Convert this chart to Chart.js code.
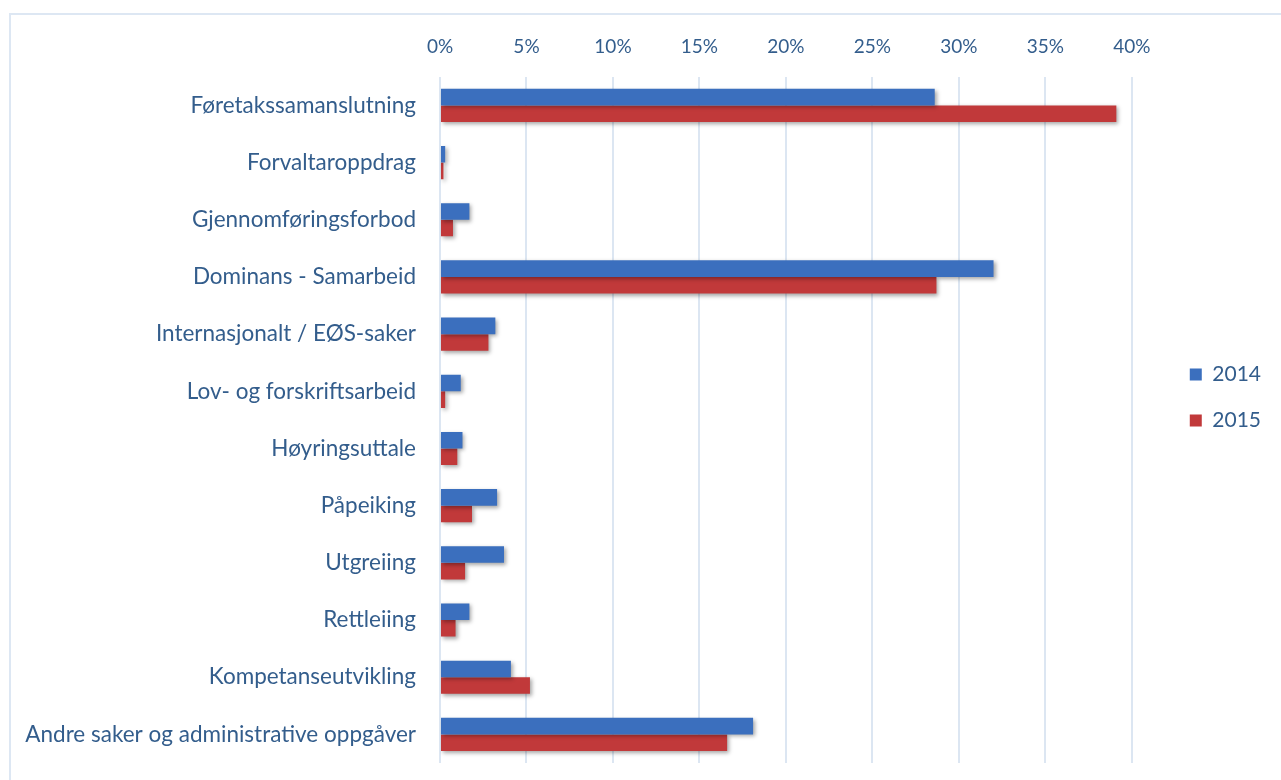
<!DOCTYPE html>
<html>
<head>
<meta charset="utf-8">
<script src="https://cdn.jsdelivr.net/npm/chart.js@4"></script>
<style>
html,body{margin:0;padding:0;background:#fff;overflow:hidden}
#wrap{position:relative;width:1281px;height:780px}
#frame{position:absolute;left:9px;top:13px;width:1300px;height:800px;border:2px solid #dde7f3;box-sizing:border-box}
canvas{position:absolute;left:0;top:0}
</style>
</head>
<body>
<div id="wrap">
<div id="frame"></div>
<canvas id="chart" width="1281" height="780"></canvas>
</div>
<script>

const categories = [
"Føretakssamanslutning",
"Forvaltaroppdrag",
"Gjennomføringsforbod",
"Dominans - Samarbeid",
"Internasjonalt / EØS-saker",
"Lov- og forskriftsarbeid",
"Høyringsuttale",
"Påpeiking",
"Utgreiing",
"Rettleiing",
"Kompetanseutvikling",
"Andre saker og administrative oppgåver"
]

const values2014 = [28.6, 0.3, 1.7, 32.0, 3.2, 1.2, 1.3, 3.3, 3.7, 1.7, 4.1, 18.1]
const values2015 = [39.1, 0.2, 0.75, 28.7, 2.8, 0.3, 1.0, 1.85, 1.45, 0.9, 5.2, 16.6]

const textColor = "#335d8c"
const fontFamily = "Lato, 'Open Sans', sans-serif"

// soft drop shadow like the office chart
const shadowPlugin = {
id:"shadow",
beforeDatasetsDraw(chart){
const ctx = chart.ctx
ctx.save()
ctx.shadowColor = "rgba(0,0,0,0.35)"
ctx.shadowBlur = 4
ctx.shadowOffsetX = 2
ctx.shadowOffsetY = 2
},
afterDatasetsDraw(chart){
chart.ctx.restore()
}
}

new Chart(document.getElementById("chart"),{
type:"bar",
data:{
labels:categories,
datasets:[
{label:"2014", data:values2014, backgroundColor:"#3b6fbe"},
{label:"2015", data:values2015, backgroundColor:"#c1393a"}
]
},
options:{
indexAxis:"y",
responsive:false,
animation:false,
layout:{padding:{top:16,bottom:1,left:0,right:10}},
datasets:{bar:{categoryPercentage:0.58, barPercentage:1}},
scales:{
x:{
position:"top",
min:0,
max:41.9,
border:{display:false},
grid:{color:"#dce6f2", lineWidth:2, drawTicks:false},
ticks:{
stepSize:5,
includeBounds:false,
padding:19,
color:textColor,
font:{family:fontFamily, size:19},
callback:v => v + "%"
}
},
y:{
border:{display:false},
grid:{display:false, drawTicks:false},
afterFit(scale){
scale.width = 440
scale.paddingTop = 0
scale.paddingBottom = 17
},
ticks:{
padding:24,
color:textColor,
font:{family:fontFamily, size:22.5}
}
}
},
plugins:{
legend:{
position:"right",
labels:{
boxWidth:12,
boxHeight:12,
padding:25,
color:textColor,
font:{family:fontFamily, size:21}
}
},
tooltip:{enabled:false}
}
},
plugins:[shadowPlugin]
})

</script>
</body>
</html>
